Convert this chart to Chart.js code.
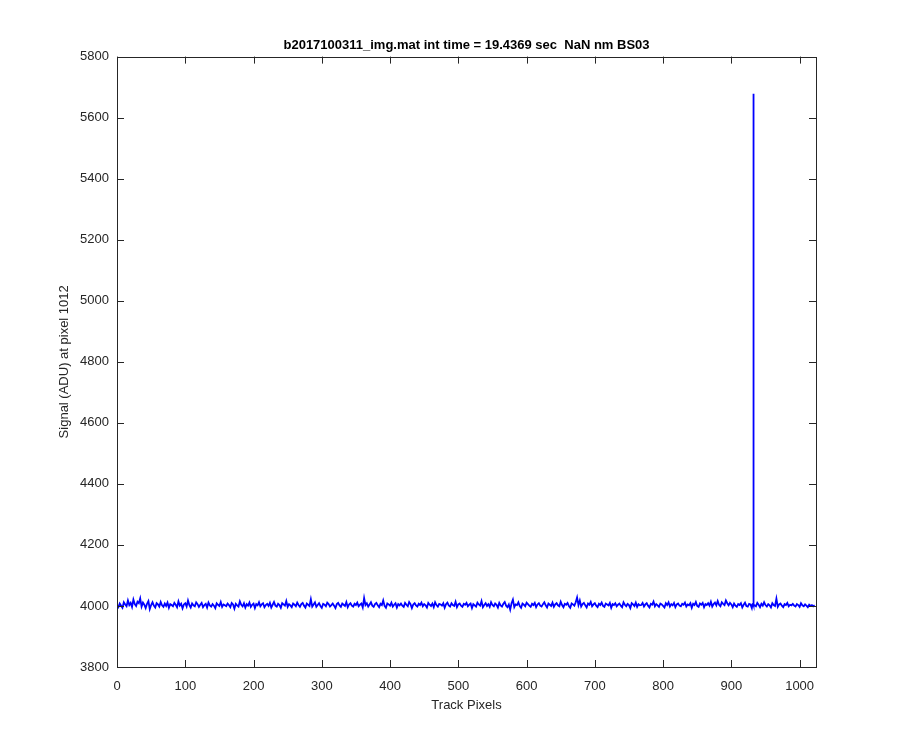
<!DOCTYPE html>
<html>
<head>
<meta charset="utf-8">
<script src="https://cdn.jsdelivr.net/npm/chart.js@4/dist/chart.umd.min.js"></script>
<style>
  html, body { margin: 0; padding: 0; background: #ffffff; }
  #wrap { width: 900px; height: 750px; }
</style>
</head>
<body>
<div id="wrap"><canvas id="chart" width="900" height="750"></canvas></div>
<script>
// Signal, one value every 2 track pixels (0, 2, 4 ... 1022)
const signal = [
  4002,3996,4008,4001,3994,4012,4005,3999,4018,4003,4010,3997,4021,4006,4000,4014,
  4009,4025,3998,4011,4004,3993,4007,4016,3990,4003,4012,4001,3995,4009,4005,3998,
  4013,4002,3997,4008,4000,4011,3994,4006,4003,3999,4010,4004,3996,4015,4001,4007,
  3992,4005,4009,3998,4018,4003,3995,4008,4002,3999,4012,4006,3997,4004,4010,3996,
  4003,4007,3995,4011,4002,3998,4006,4001,3993,4009,4004,4000,4013,3997,4005,4002,
  3999,4008,4003,3996,4010,4005,3991,4007,4002,3998,4015,4004,3999,4009,3995,4006,
  4001,4011,3997,4004,4008,3993,4006,4002,4012,3999,4005,4009,3996,4003,4007,4000,
  4010,3995,4004,4013,4001,3998,4007,4003,3994,4009,4005,4001,4016,3997,4006,4002,
  3996,4008,4004,3999,4011,4003,3997,4006,4010,4001,3995,4008,4004,4000,4022,3998,
  4005,4012,3997,4003,4009,4000,3994,4007,4004,3999,4011,4006,3998,4003,4008,4001,
  3993,4006,4010,4002,3997,4008,4004,4000,4013,3996,4005,4009,4001,3998,4007,4003,
  4011,3999,4004,4008,3995,4026,4003,4009,3998,4005,4012,4001,3997,4006,4010,4002,
  3996,4007,4003,4018,4000,3994,4008,4005,4001,4011,3998,4004,4009,3995,4006,4002,
  4008,4001,3997,4010,4004,3999,4013,4006,3993,4005,4009,4002,3998,4007,4003,4011,
  3999,4006,4002,3995,4010,4004,4000,4008,3996,4012,4003,3998,4007,4005,4001,4009,
  3994,4006,4011,4002,3998,4009,4003,4000,4014,3996,4005,4008,4001,3997,4007,4004,
  4010,3999,4004,4008,3993,4006,4002,3998,4011,4005,4001,4016,3996,4003,4009,4000,
  4006,3997,4012,4003,3999,4008,4004,3995,4010,4002,3998,4007,4013,4001,3996,4005,
  3988,4009,4021,3996,4005,4003,4012,4000,3994,4008,4004,3999,4011,4006,4001,3997,
  4007,4003,4010,3996,4005,4009,4001,3998,4006,4012,4002,3995,4008,4004,4000,4011,
  3997,4005,4009,4002,3999,4014,4003,3996,4007,4004,4010,4000,3994,4008,4005,4001,
  4012,4028,4003,4018,3998,4006,4010,4002,3995,4008,4004,4013,3999,4005,4009,4001,
  3996,4007,4003,4011,4000,3997,4008,4005,4002,4010,3994,4006,4003,4009,3999,4004,
  4008,4001,3996,4012,4004,3999,4007,4003,3993,4009,4005,4000,4011,3997,4006,4002,
  4003,4010,3998,4005,4009,4001,3995,4007,4004,4014,3999,4006,4002,3997,4008,4005,
  4000,3995,4009,4003,4012,3998,4006,4002,4010,3996,4005,4008,4001,3999,4007,4004,
  4011,3998,4005,4002,4009,3994,4007,4003,4013,4000,3997,4008,4004,4010,3996,4006,
  4003,4009,4001,4014,3998,4006,4011,4002,4016,4004,3999,4012,4007,4003,4018,4009,
  4002,4010,4005,3996,4008,4001,3997,4006,4003,4009,3995,4004,4011,4000,3998,4007,
  4005,3993,4008,4002,3999,4010,4004,3996,4007,4001,4012,4003,3998,4006,4002,3995,
  4009,4003,4000,4024,3997,4005,4008,4001,3996,4006,4003,4010,3999,4004,4002,4007,
  4001,3998,4006,4003,3997,4009,4002,3999,4005,4001,3996,4004,4000,4003,3999,4002
];
// The single hot pixel near track pixel 932
const spikePixels = [931, 932, 933];
const spikeValues = [4006, 5678, 4004];

const xTicks = [0, 100, 200, 300, 400, 500, 600, 700, 800, 900, 1000];
const yTicks = [3800, 4000, 4200, 4400, 4600, 4800, 5000, 5200, 5400, 5600, 5800];

const titleText = 'b2017100311_img.mat int time = 19.4369 sec  NaN nm BS03';
const xLabel = 'Track Pixels';
const yLabel = 'Signal (ADU) at pixel 1012';

// build the point list
const points = signal.map((v, i) => ({ x: i * 2, y: v }));
spikePixels.forEach((p, i) => points.push({ x: p, y: spikeValues[i] }));
points.sort((a, b) => a.x - b.x);

const axisColor = '#262626';
const fontFamily = "'Liberation Sans', Arial, sans-serif";

// MATLAB-like box with inward ticks on all four sides
const boxPlugin = {
  id: 'box',
  afterDraw(chart) {
    const ctx = chart.ctx;
    const a = chart.chartArea;
    const xs = chart.scales.x;
    const ys = chart.scales.y;
    ctx.save();
    ctx.strokeStyle = axisColor;
    ctx.lineWidth = 1;
    ctx.beginPath();
    xTicks.forEach(t => {
      const px = Math.round(xs.getPixelForValue(t)) + 0.5;
      ctx.moveTo(px, a.bottom); ctx.lineTo(px, a.bottom - 7);
      ctx.moveTo(px, a.top); ctx.lineTo(px, a.top + 7);
    });
    yTicks.forEach(t => {
      const py = Math.round(ys.getPixelForValue(t)) + 0.5;
      ctx.moveTo(a.left, py); ctx.lineTo(a.left + 7, py);
      ctx.moveTo(a.right, py); ctx.lineTo(a.right - 7, py);
    });
    ctx.stroke();
    ctx.strokeRect(Math.round(a.left) + 0.5, Math.round(a.top) + 0.5,
                   Math.round(a.right - a.left), Math.round(a.bottom - a.top));
    ctx.restore();
  }
};

new Chart(document.getElementById('chart'), {
  type: 'line',
  data: {
    datasets: [{
      data: points,
      borderColor: '#0000ff',
      borderWidth: 1.8,
      pointRadius: 0,
      tension: 0,
      fill: false
    }]
  },
  options: {
    responsive: false,
    animation: false,
    parsing: false,
    layout: { padding: { left: 55, right: 84, top: 0, bottom: 33 } },
    plugins: {
      legend: { display: false },
      tooltip: { enabled: false },
      title: {
        display: true,
        text: titleText,
        fullSize: false,
        color: '#000000',
        font: { family: fontFamily, size: 13, weight: 'bold' },
        padding: { top: 38, bottom: 3 }
      }
    },
    scales: {
      x: {
        type: 'linear',
        min: 0,
        max: 1024,
        afterBuildTicks: s => { s.ticks = xTicks.map(v => ({ value: v })); },
        afterFit: s => { s.height = 50; },
        grid: { display: false },
        border: { display: false },
        ticks: {
          color: axisColor, font: { family: fontFamily, size: 13 }, padding: 4, maxRotation: 0,
          callback: v => String(v)
        },
        title: { display: true, text: xLabel, color: axisColor, font: { family: fontFamily, size: 13 }, padding: { top: 4 } }
      },
      y: {
        type: 'linear',
        min: 3800,
        max: 5800,
        afterBuildTicks: s => { s.ticks = yTicks.map(v => ({ value: v })); },
        afterFit: s => { s.width = 62; },
        grid: { display: false, drawTicks: false },
        border: { display: false },
        ticks: {
          color: axisColor, font: { family: fontFamily, size: 13 }, padding: 8,
          callback: v => String(v)
        },
        title: { display: true, text: yLabel, color: axisColor, font: { family: fontFamily, size: 13 }, padding: { top: 2, bottom: 4 } }
      }
    }
  },
  plugins: [boxPlugin]
});
</script>
</body>
</html>
